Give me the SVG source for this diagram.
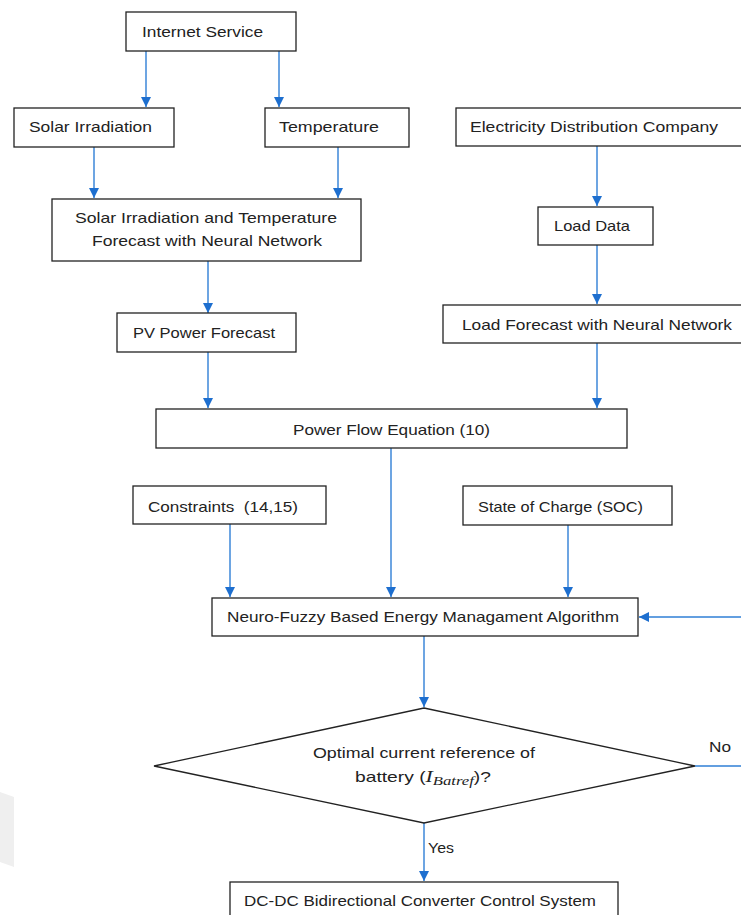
<svg xmlns="http://www.w3.org/2000/svg" width="741" height="915" viewBox="0 0 741 915">
<style>
.box{fill:#fff;stroke:#222;stroke-width:1.3}
.t{font-family:"Liberation Sans",Arial,sans-serif;font-size:15px;fill:#222}
.c{stroke:#2f7fd6;stroke-width:1.4;fill:none}
.m{font-family:"Liberation Serif","DejaVu Serif",serif;font-style:italic}
</style>
<defs>
<marker id="ah" viewBox="0 0 10 10" refX="10" refY="5" markerWidth="10" markerHeight="10" markerUnits="userSpaceOnUse" orient="auto">
<path d="M0,0 L10,5 L0,10 z" fill="#1e6fcf"/>
</marker>
</defs>
<rect width="741" height="915" fill="#fff"/>
<polygon points="0,792 14,797 14,867 0,862" fill="#efefef"/>
<g id="connectors">
<line class="c" x1="146" y1="51" x2="146" y2="107" marker-end="url(#ah)"/>
<line class="c" x1="279" y1="51" x2="279" y2="107" marker-end="url(#ah)"/>
<line class="c" x1="94" y1="147" x2="94" y2="198" marker-end="url(#ah)"/>
<line class="c" x1="338" y1="147" x2="338" y2="198" marker-end="url(#ah)"/>
<line class="c" x1="597" y1="146" x2="597" y2="206" marker-end="url(#ah)"/>
<line class="c" x1="597" y1="245" x2="597" y2="304" marker-end="url(#ah)"/>
<line class="c" x1="208" y1="261" x2="208" y2="313" marker-end="url(#ah)"/>
<line class="c" x1="208" y1="352" x2="208" y2="408" marker-end="url(#ah)"/>
<line class="c" x1="597" y1="343" x2="597" y2="408" marker-end="url(#ah)"/>
<line class="c" x1="230" y1="524" x2="230" y2="597" marker-end="url(#ah)"/>
<line class="c" x1="391" y1="448" x2="391" y2="597" marker-end="url(#ah)"/>
<line class="c" x1="568" y1="525" x2="568" y2="597" marker-end="url(#ah)"/>
<line class="c" x1="741" y1="617" x2="639" y2="617" marker-end="url(#ah)"/>
<line class="c" x1="424" y1="636" x2="424" y2="707" marker-end="url(#ah)"/>
<line class="c" x1="695" y1="766" x2="741" y2="766"/>
<line class="c" x1="424" y1="823" x2="424" y2="881" marker-end="url(#ah)"/>
<text class="t" x="709" y="752" textLength="22" lengthAdjust="spacingAndGlyphs">No</text>
<text class="t" x="428" y="853" textLength="26" lengthAdjust="spacingAndGlyphs">Yes</text>
</g>
<g id="internet">
<rect class="box" x="126" y="12" width="170" height="39"/>
<text class="t" x="142" y="37" textLength="121" lengthAdjust="spacingAndGlyphs">Internet Service</text>
</g>
<g id="solar">
<rect class="box" x="14" y="108" width="160" height="39"/>
<text class="t" x="29" y="132" textLength="123" lengthAdjust="spacingAndGlyphs">Solar Irradiation</text>
</g>
<g id="temperature">
<rect class="box" x="265" y="108" width="144" height="39"/>
<text class="t" x="279" y="132" textLength="100" lengthAdjust="spacingAndGlyphs">Temperature</text>
</g>
<g id="forecast-nn">
<rect class="box" x="52" y="199" width="309" height="62"/>
<text class="t" x="75" y="223" textLength="262" lengthAdjust="spacingAndGlyphs">Solar Irradiation and Temperature</text>
<text class="t" x="92" y="246" textLength="230" lengthAdjust="spacingAndGlyphs">Forecast with Neural Network</text>
</g>
<g id="edc">
<rect class="box" x="456" y="108" width="290" height="38"/>
<text class="t" x="470" y="132" textLength="248" lengthAdjust="spacingAndGlyphs">Electricity Distribution Company</text>
</g>
<g id="load-data">
<rect class="box" x="538" y="207" width="115" height="38"/>
<text class="t" x="554" y="231" textLength="76" lengthAdjust="spacingAndGlyphs">Load Data</text>
</g>
<g id="load-forecast">
<rect class="box" x="443" y="305" width="303" height="38"/>
<text class="t" x="462" y="330" textLength="270" lengthAdjust="spacingAndGlyphs">Load Forecast with Neural Network</text>
</g>
<g id="pv">
<rect class="box" x="117" y="313" width="179" height="39"/>
<text class="t" x="133" y="338" textLength="142" lengthAdjust="spacingAndGlyphs">PV Power Forecast</text>
</g>
<g id="power-flow">
<rect class="box" x="156" y="409" width="471" height="39"/>
<text class="t" x="293" y="435" textLength="197" lengthAdjust="spacingAndGlyphs">Power Flow Equation (10)</text>
</g>
<g id="constraints">
<rect class="box" x="133" y="486" width="193" height="38"/>
<text class="t" x="148" y="512" textLength="150" lengthAdjust="spacingAndGlyphs" xml:space="preserve">Constraints  (14,15)</text>
</g>
<g id="soc">
<rect class="box" x="463" y="486" width="209" height="39"/>
<text class="t" x="478" y="512" textLength="165" lengthAdjust="spacingAndGlyphs">State of Charge (SOC)</text>
</g>
<g id="nf-ems">
<rect class="box" x="212" y="598" width="426" height="38"/>
<text class="t" x="227" y="622" textLength="392" lengthAdjust="spacingAndGlyphs">Neuro-Fuzzy Based Energy Managament Algorithm</text>
</g>
<g id="decision">
<polygon class="box" points="424,708 695,766 424,823 154,766"/>
<text class="t" x="313" y="758" textLength="222" lengthAdjust="spacingAndGlyphs">Optimal current reference of</text>
<text class="t" x="355" y="782" textLength="136" lengthAdjust="spacingAndGlyphs">battery (<tspan class="m" font-size="17">I</tspan><tspan class="m" font-size="13" dy="3">Batref</tspan><tspan dy="-3">)?</tspan></text>
</g>
<g id="dcdc">
<rect class="box" x="230" y="882" width="388" height="40"/>
<text class="t" x="244" y="906" textLength="352" lengthAdjust="spacingAndGlyphs">DC-DC Bidirectional Converter Control System</text>
</g>
</svg>
